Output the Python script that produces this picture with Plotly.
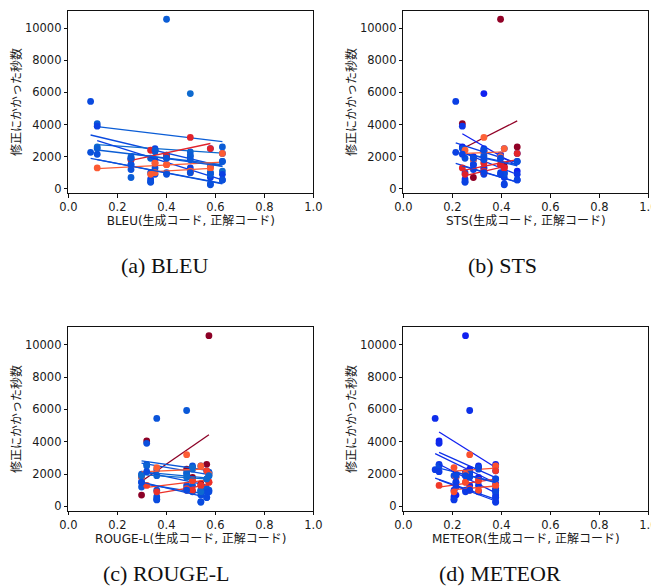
import numpy as np
import plotly.graph_objects as go

# ---- data: each task's similarity score for each metric ----
task_bleu = [0.091, 0.118, 0.256, 0.336, 0.354, 0.401, 0.498, 0.580, 0.629]
task_sts = [0.214, 0.241, 0.286, 0.252, 0.329, 0.397, 0.329, 0.412, 0.465]
task_rouge = [0.361, 0.320, 0.299, 0.361, 0.507, 0.574, 0.483, 0.541, 0.565]
task_meteor = [0.130, 0.146, 0.215, 0.207, 0.307, 0.254, 0.271, 0.377, 0.377]

# ---- seconds each participant needed to fix each task (None = not done) ----
times_p1 = [None, 4050, 700, None, 1800, 10561, 2300, 1400, 2600]
times_p2 = [5440, None, 1900, 1000, 900, 2100, 2000, 2500, 2200]
times_p3 = [2270, None, 1200, 450, 1300, 1000, 1100, 250, 550]
times_p4 = [None, 2600, 2000, None, 2400, 2100, 5930, 1000, 1100]
times_p5 = [None, 2500, 1800, 1900, 2300, 2000, 2100, 1000, 1700]
times_p6 = [None, 3900, 1500, 600, 2500, 1900, 1300, 700, 900]
times_p7 = [None, None, 1800, 2400, 1600, 2000, 3200, 2500, None]
times_p8 = [None, 1300, None, None, 1600, 1500, 1100, 1300, 2200]
times_p9 = [None, None, None, 900, 1000, 1500, 1000, 1300, None]
times_p10 = [None, None, 1900, None, 2400, 1900, 1800, 900, 1700]
times_p11 = [None, 2150, 1500, 400, None, 900, 1000, 300, 550]

participants = [times_p1, times_p2, times_p3, times_p4, times_p5, times_p6,
                times_p7, times_p8, times_p9, times_p10, times_p11]

metric_names = ["BLEU", "STS", "ROUGE-L", "METEOR"]
metric_values = [task_bleu, task_sts, task_rouge, task_meteor]
captions = ["(a) BLEU", "(b) STS", "(c) ROUGE-L", "(d) METEOR"]
y_title = "修正にかかった秒数"

# ---- colour of a participant's line: by slope of the fit ----
NEG_STOPS = [(-9000, (16, 32, 240)), (-4000, (10, 70, 225)), (-2000, (10, 90, 215)),
             (-800, (15, 110, 205)), (-300, (22, 128, 196)), (0, (30, 140, 190))]
POS_STOPS = [(0, (255, 115, 65)), (1500, (250, 70, 40)), (4000, (215, 20, 45)),
             (8000, (140, 0, 38))]


def slope_color(s):
    stops = NEG_STOPS if s < 0 else POS_STOPS
    lo, hi = stops[0][0], stops[-1][0]
    s = min(max(s, lo), hi)
    for (x0, c0), (x1, c1) in zip(stops, stops[1:]):
        if x0 <= s <= x1:
            t = (s - x0) / (x1 - x0) if x1 != x0 else 0
            c = [round(a + (b - a) * t) for a, b in zip(c0, c1)]
            return f"rgb({c[0]},{c[1]},{c[2]})"
    c = stops[-1][1]
    return f"rgb({c[0]},{c[1]},{c[2]})"


# page body has an 8px default margin, so the figure is drawn offset by 8px
OFF = 8
W, H = 659 - OFF, 588 - OFF


def px_x(sx):
    return (sx - OFF) / W


def px_y(sy):
    return 1 - (sy - OFF) / H


# subplot plot-area boxes in screen pixels (left, right, top, bottom)
boxes = [(68.3, 313.3, 11.0, 193.0), (403.3, 648.3, 11.0, 193.0),
         (68.3, 313.3, 327.3, 510.7), (403.3, 648.3, 327.3, 510.7)]
caption_px = [(164.5, 265.5), (502.0, 265.5), (166.0, None), (500.0, None)]

all_y = [v for p in participants for v in p if v is not None]
ymin, ymax = min(all_y), max(all_y)
pad = 0.05 * (ymax - ymin)
y_range = [ymin - pad, ymax + pad]

FONT = "DejaVu Sans, Noto Sans CJK JP, sans-serif"

fig = go.Figure()
layout = dict(width=W, height=H, margin=dict(l=0, r=0, t=0, b=0, autoexpand=False),
              paper_bgcolor="white", plot_bgcolor="white", showlegend=False,
              font=dict(family=FONT, size=11.5, color="#1a1a1a"))
annotations = []

for k, (name, xs_task) in enumerate(zip(metric_names, metric_values)):
    xa = "x" if k == 0 else f"x{k+1}"
    ya = "y" if k == 0 else f"y{k+1}"
    for times in participants:
        xs = [xs_task[i] for i, t in enumerate(times) if t is not None]
        ys = [t for t in times if t is not None]
        b, a = np.polyfit(xs, ys, 1)
        col = slope_color(b)
        fig.add_trace(go.Scatter(x=xs, y=ys, mode="markers", xaxis=xa, yaxis=ya,
                                 marker=dict(size=6.8, color=col, line=dict(width=0)),
                                 hoverinfo="skip"))
        xl = [min(xs), max(xs)]
        fig.add_trace(go.Scatter(x=xl, y=[a + b * v for v in xl], mode="lines",
                                 xaxis=xa, yaxis=ya,
                                 line=dict(color=col, width=1.3), hoverinfo="skip"))
    l, r, t, btm = boxes[k]
    axis_common = dict(showline=True, mirror=True, linecolor="#111", linewidth=1,
                       ticks="outside", ticklen=3.5, tickwidth=1, tickcolor="#111",
                       showgrid=False, zeroline=False, automargin=False,
                       tickfont=dict(family=FONT, size=11.5, color="#1a1a1a"))
    layout["xaxis" if k == 0 else f"xaxis{k+1}"] = dict(
        domain=[px_x(l), px_x(r)], range=[0, 1], tick0=0, dtick=0.2, tickformat=".1f",
        anchor=ya, title=dict(text=f"{name}(生成コード, 正解コード)",
                              font=dict(family=FONT, size=12, color="#1a1a1a"),
                              standoff=0),
        **axis_common)
    layout["yaxis" if k == 0 else f"yaxis{k+1}"] = dict(
        domain=[px_y(btm), px_y(t)], range=y_range, tick0=0, dtick=2000,
        tickformat="d", anchor=xa,
        title=dict(text=y_title, font=dict(family=FONT, size=12, color="#1a1a1a"),
                   standoff=0),
        **axis_common)
    cx, cy = caption_px[k]
    cap_font = dict(family="Liberation Serif, DejaVu Serif, serif", size=22, color="#111")
    if cy is None:
        annotations.append(dict(text=captions[k], x=px_x(cx), y=0.0, xref="paper",
                                yref="paper", showarrow=False, xanchor="center",
                                yanchor="bottom", font=cap_font))
    else:
        annotations.append(dict(text=captions[k], x=px_x(cx), y=px_y(cy), xref="paper",
                                yref="paper", showarrow=False, xanchor="center",
                                yanchor="middle", font=cap_font))

layout["annotations"] = annotations
fig.update_layout(**layout)
fig.write_html("out.html")
